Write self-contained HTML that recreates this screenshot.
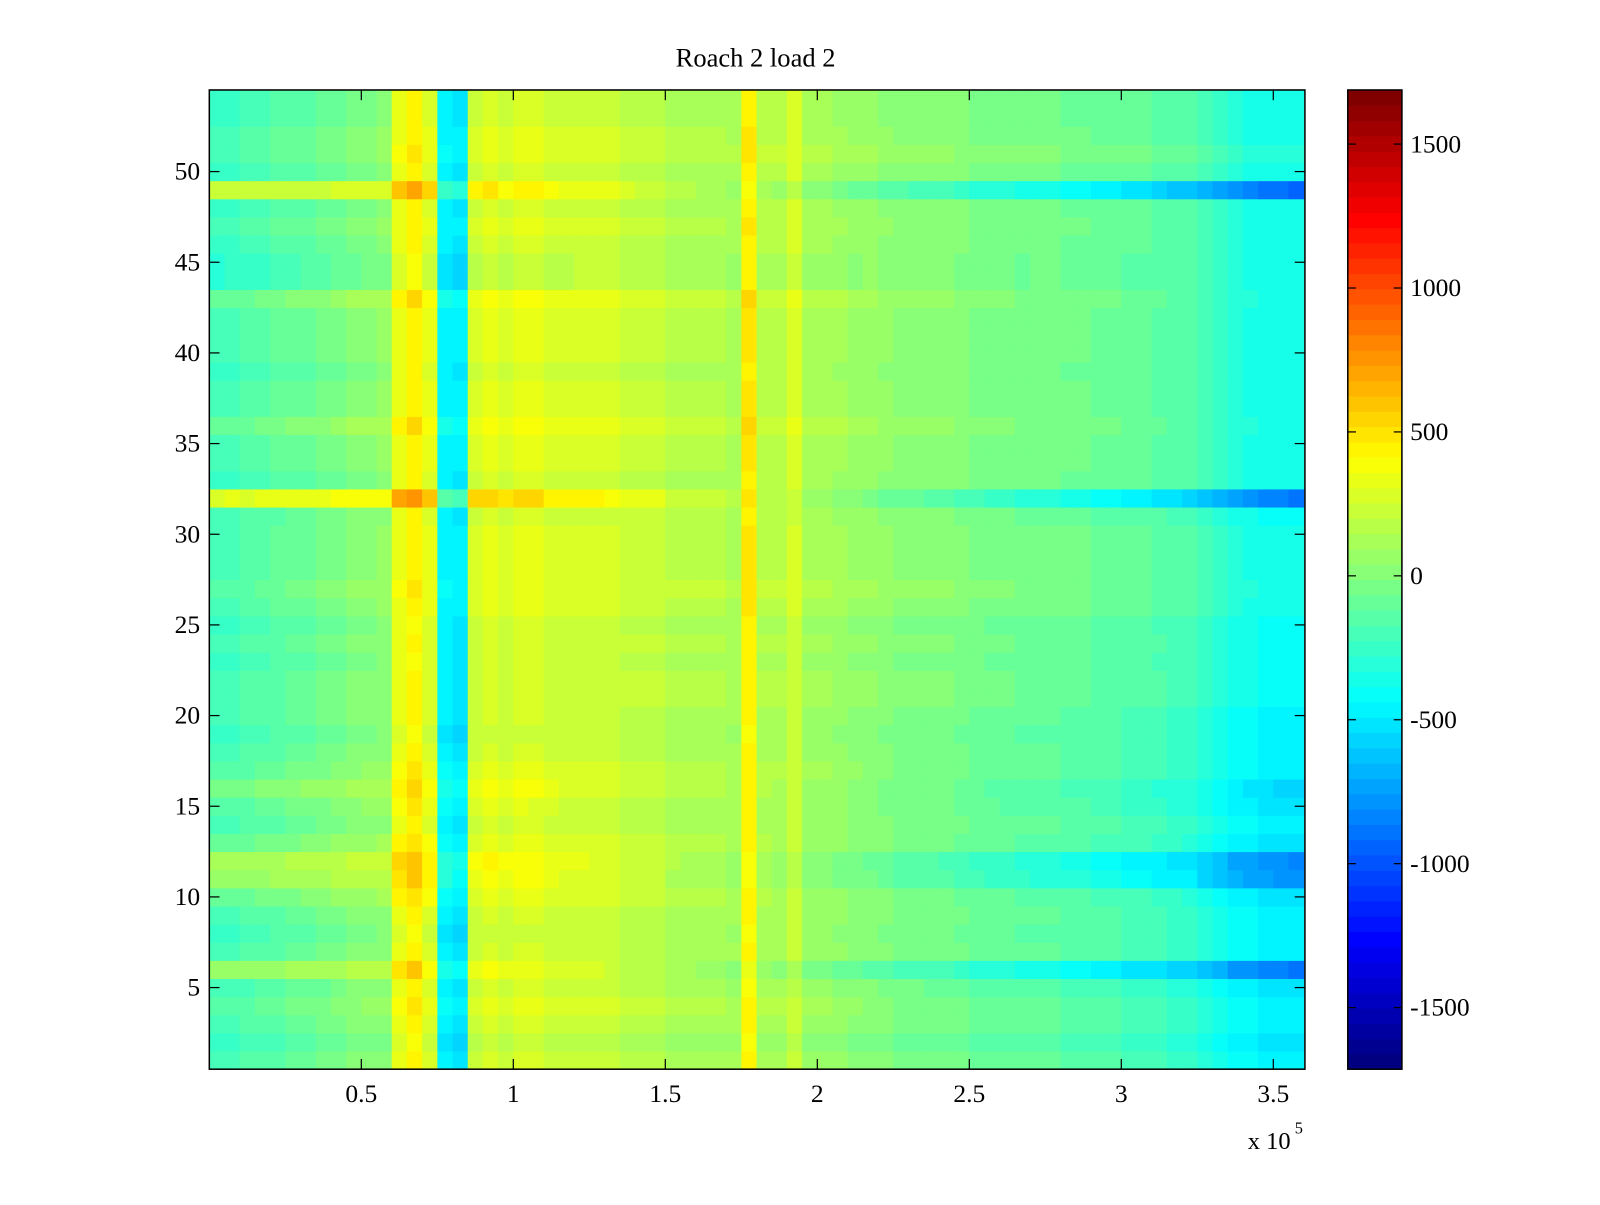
<!DOCTYPE html>
<html><head><meta charset="utf-8"><style>
html,body{margin:0;padding:0;background:#fff;}
svg text{font-family:"Liberation Serif",serif;fill:#000;}
</style></head><body>
<svg id="fig" width="1600" height="1200" viewBox="0 0 1567 1175" xmlns="http://www.w3.org/2000/svg">
<rect x="0" y="0" width="1567" height="1175" fill="#fff"/>
<text x="740" y="65" font-size="26" text-anchor="middle">Roach 2 load 2</text>
<g id="cells"></g>
<g id="cbar"></g>
<rect x="205" y="88" width="1073" height="959" fill="none" stroke="#000" stroke-width="1.5"/>
<rect x="1320" y="88" width="53" height="959" fill="none" stroke="#000" stroke-width="1.5"/>
<g id="axes"></g>
<text x="1222" y="1125" font-size="24">x 10</text>
<text x="1268" y="1110" font-size="16">5</text>
</svg>
<script>
// column profile: mean value per 0.05e5 bin of x (0 .. 3.6e5)
const colProfile = [
 -200,-180,-170,-150,-120,-100,-80,-60,-30,0,
 20,40,350,450,300,-450,-500,250,300,250,
 300,300,250,250,250,250,250,200,200,200,
 150,150,150,150,120,450,150,150,250,100,
 100,80,50,50,20,0,0,0,0,-30,
 -50,-60,-60,-80,-80,-80,-100,-100,-120,-120,
 -150,-150,-170,-200,-200,-250,-300,-350,-380,-400,
 -420,-420];
// row offsets (rows 1..54), applied at left and right sides of the plot
const rowLeft = [
 0,-50,0,50,0,250,0,-50,0,100,250,300,100,0,50,150,50,0,-50,0,
 0,0,-50,0,-50,0,50,0,0,0,0,500,-50,0,0,100,0,0,-50,0,
 0,0,100,-100,-100,-50,0,-50,400,-50,0,0,-50,-50];
const rowRight = [
 -50,-100,-50,-50,-100,-450,-50,-50,-50,-100,-350,-400,-100,-50,-100,-150,-50,-50,-50,-50,
 0,0,0,0,0,50,50,50,50,50,0,-450,50,50,50,50,50,50,50,50,
 50,50,50,50,50,50,50,50,-500,50,100,50,50,50];
const xTicks = [0.5,1,1.5,2,2.5,3,3.5];
const yTicks = [5,10,15,20,25,30,35,40,45,50];
const cTicks = [-1500,-1000,-500,0,500,1000,1500];

const X0=205,X1=1278,Y0=88,Y1=1047;
const xMax=3.604, yMin=0.5, yMax=54.5, cMin=-1714, cMax=1688;
const xs = v => X0 + v/xMax*(X1-X0);
const ys = v => Y1 - (v-yMin)/(yMax-yMin)*(Y1-Y0);
const cs = v => Y1 - (v-cMin)/(cMax-cMin)*(Y1-Y0);
function jet(t){
  t=Math.max(0,Math.min(1,t));
  const idx=Math.floor(t*63.999)/63;
  const f=(a)=>Math.max(0,Math.min(1,1.5-Math.abs(4*idx-a)));
  const r=f(3),g=f(2),b=f(1);
  return `rgb(${Math.round(r*255)},${Math.round(g*255)},${Math.round(b*255)})`;
}
const NS="http://www.w3.org/2000/svg";
const cells=document.getElementById('cells');
const bw=0.05;
for(let r=0;r<rowLeft.length;r++){
  for(let c=0;c<colProfile.length;c++){
    const frac=c/(colProfile.length-1);
    const v=colProfile[c]+rowLeft[r]*(1-frac)+rowRight[r]*frac;
    const x0=xs(c*bw), x1=Math.min(X1,xs((c+1)*bw));
    const rc=document.createElementNS(NS,'rect');
    
    
    rc.setAttribute('x',x0);rc.setAttribute('width',Math.max(0,x1-x0)+0.5);
    rc.setAttribute('y',ys(r+1.5));rc.setAttribute('height',ys(r+0.5)-ys(r+1.5)+0.5);
    rc.setAttribute('fill',jet((v-cMin)/(cMax-cMin)));
    cells.appendChild(rc);
  }
}
const cbar=document.getElementById('cbar');
for(let i=0;i<64;i++){
  const lo=cMin+i*(cMax-cMin)/64, hi=cMin+(i+1)*(cMax-cMin)/64;
  const rc=document.createElementNS(NS,'rect');
  
  
  rc.setAttribute('x',1320);rc.setAttribute('width',53);
  rc.setAttribute('y',cs(hi));rc.setAttribute('height',cs(lo)-cs(hi)+0.5);
  rc.setAttribute('fill',jet((i+0.5)/64));
  cbar.appendChild(rc);
}
const axes=document.getElementById('axes');
function line(x1,y1,x2,y2){const l=document.createElementNS(NS,'line');
  l.setAttribute('x1',x1);l.setAttribute('y1',y1);l.setAttribute('x2',x2);l.setAttribute('y2',y2);
  l.setAttribute('stroke','#000');l.setAttribute('stroke-width','1.2');
  
  
  axes.appendChild(l);}
function text(x,y,s,anchor,name){const t=document.createElementNS(NS,'text');
  t.setAttribute('x',x);t.setAttribute('y',y);t.setAttribute('font-size','25');t.setAttribute('text-anchor',anchor);
  t.textContent=s;
  
  
  axes.appendChild(t);}
xTicks.forEach(v=>{const x=xs(v);line(x,Y1,x,Y1-10);line(x,Y0,x,Y0+10);text(x,1079,String(v),'middle','x-tick-label');});
yTicks.forEach(v=>{const y=ys(v);line(X0,y,X0+10,y);line(X1,y,X1-10,y);text(196,y+8,String(v),'end','y-tick-label');});
cTicks.forEach(v=>{const y=cs(v);line(1320,y,1328,y);line(1373,y,1365,y);text(1381,y+8,String(v),'start','colorbar-tick-label');});
</script>
</body></html>
